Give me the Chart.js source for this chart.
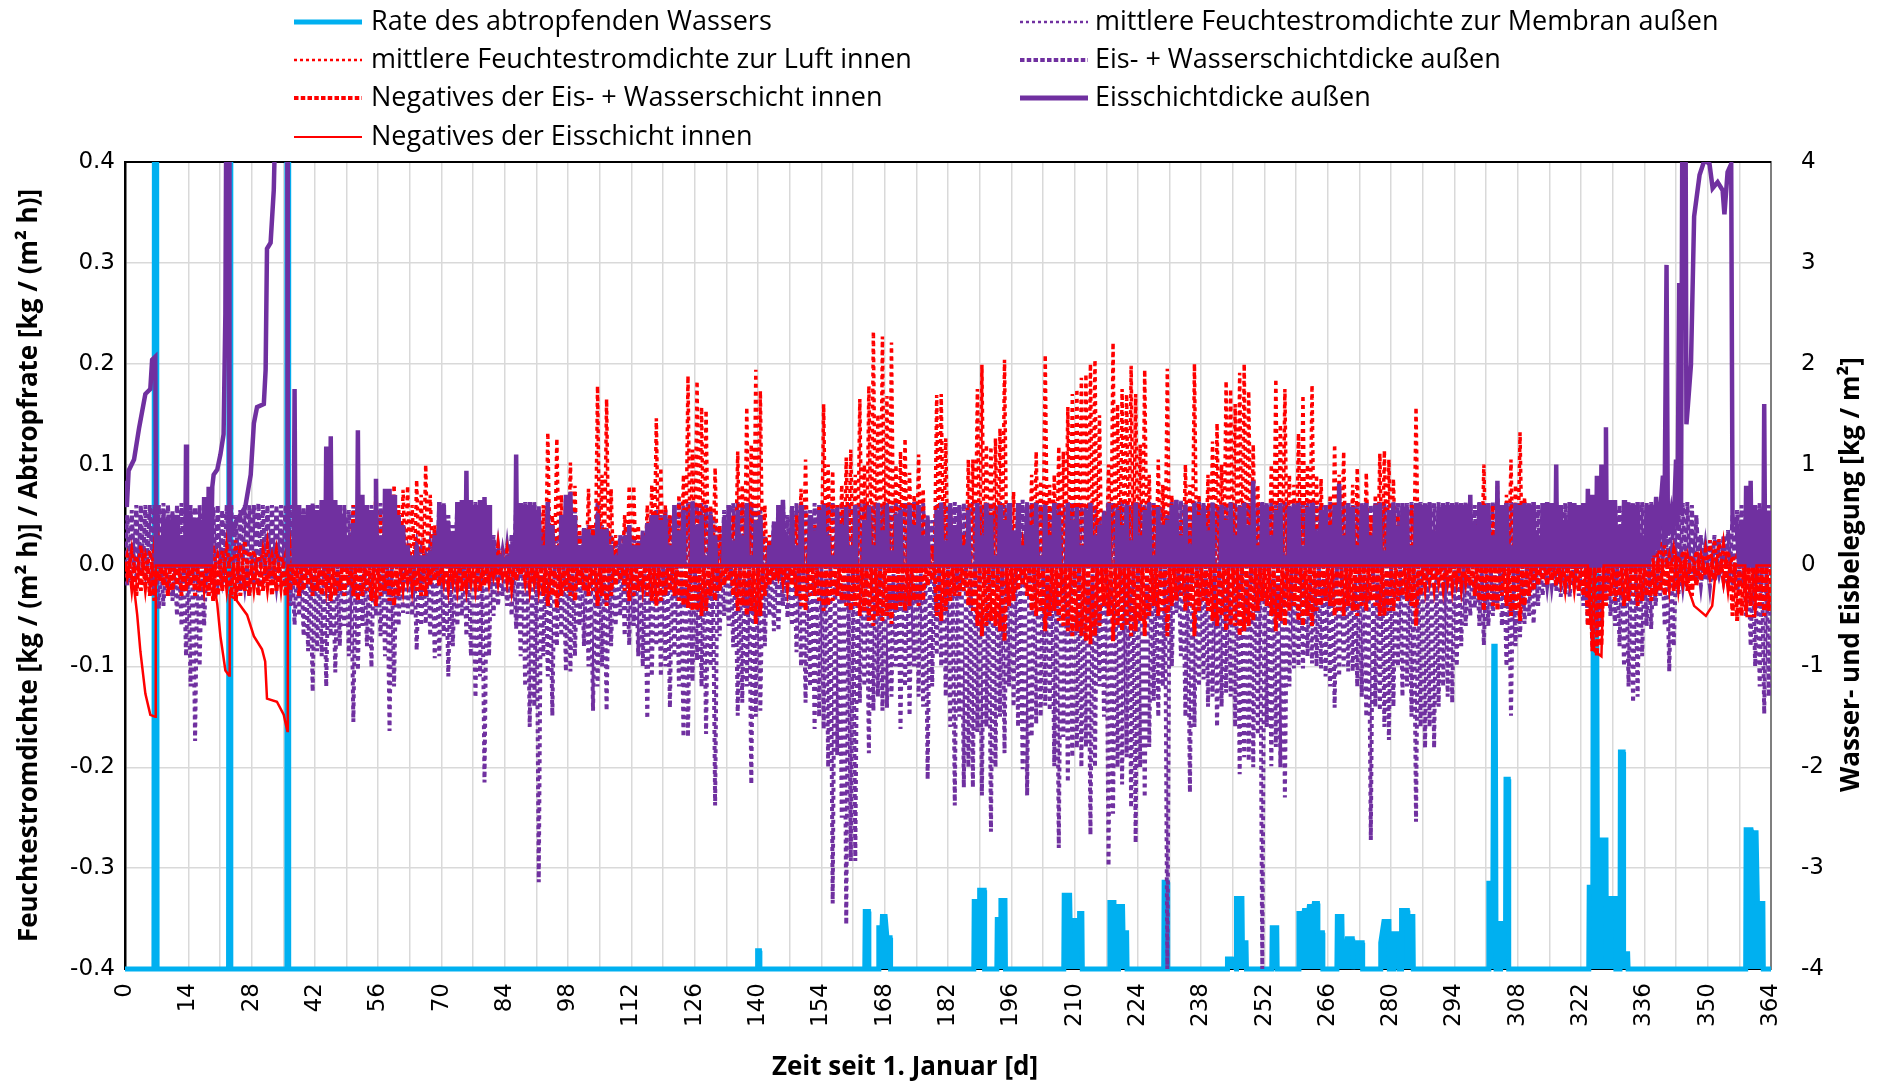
<!DOCTYPE html>
<html lang="de">
<head>
<meta charset="UTF-8">
<title>Feuchtestromdichte und Eisbelegung</title>
<script src="https://cdn.jsdelivr.net/npm/chart.js@4"></script>
<style>
  html, body { margin: 0; padding: 0; background: #fff; }
  #chartBox { width: 1881px; height: 1085px; position: relative; }
</style>
</head>
<body>
<div id="chartBox"><canvas id="chart"></canvas></div>
<script>
// Abtropfrate [kg/(m² h)], als [Tag, Wert] (Nulllinie liegt bei -0.4)
const rateAbtropf = [
  [0,-0.4],[6.4,-0.4],[6.5,0.45],[7.0,0.45],[7.1,-0.4],[22.9,-0.4],[23.0,0.45],[23.3,0.45],[23.4,-0.4],
  [35.7,-0.4],[35.8,0.45],[36.1,0.45],[36.2,-0.4],
  [139.8,-0.4],[139.9,-0.382],[140.3,-0.382],[140.4,-0.4],
  [163.6,-0.4],[163.7,-0.343],[164.4,-0.343],[164.5,-0.4],
  [166.6,-0.4],[166.7,-0.359],[167.4,-0.359],[167.5,-0.348],[168.1,-0.348],[168.5,-0.369],[169.2,-0.369],[169.3,-0.4],
  [187.7,-0.4],[187.8,-0.333],[188.9,-0.333],[189,-0.322],[190,-0.322],[190.1,-0.4],
  [192.8,-0.4],[192.9,-0.351],[193.5,-0.351],[193.7,-0.332],[194.6,-0.332],[194.7,-0.4],
  [207.6,-0.4],[207.7,-0.327],[208.9,-0.327],[209,-0.352],[210.1,-0.352],[210.2,-0.372],[211,-0.372],[211.1,-0.345],[211.6,-0.345],[211.7,-0.4],
  [217.7,-0.4],[217.8,-0.334],[218.7,-0.334],[218.8,-0.4],
  [219.6,-0.4],[219.7,-0.338],[220.6,-0.338],[220.7,-0.364],[221.5,-0.364],[221.6,-0.4],
  [229.7,-0.4],[229.8,-0.314],[230.5,-0.314],[230.6,-0.4],
  [243.7,-0.4],[243.8,-0.39],[244.8,-0.39],[245.7,-0.4],[245.8,-0.33],[247,-0.33],[247.1,-0.374],[247.9,-0.374],[248,-0.4],
  [253.6,-0.4],[253.7,-0.359],[254.7,-0.359],[254.8,-0.4],
  [259.5,-0.4],[259.6,-0.345],[260.7,-0.345],[260.8,-0.342],[261.8,-0.342],[261.9,-0.338],[262.9,-0.338],[263,-0.335],[263.7,-0.335],[263.8,-0.364],[264.8,-0.364],[264.9,-0.4],
  [268,-0.4],[268.1,-0.348],[269.1,-0.348],[269.2,-0.38],[270.1,-0.38],[270.3,-0.37],[271.4,-0.37],[271.5,-0.4],[271.8,-0.374],[273.6,-0.374],[273.7,-0.4],
  [277.6,-0.4],[277.7,-0.374],[278.4,-0.353],[279.5,-0.353],[279.6,-0.4],[280.5,-0.4],[280.6,-0.365],[281.7,-0.365],[281.8,-0.4],
  [282.2,-0.4],[282.3,-0.342],[283.6,-0.342],[283.7,-0.348],[284.8,-0.348],[284.9,-0.4],
  [301.5,-0.4],[301.6,-0.315],[302.5,-0.315],[302.7,-0.08],[303.0,-0.08],[303.2,-0.4],[304.1,-0.4],[304.2,-0.355],[305.3,-0.355],[305.4,-0.212],[305.9,-0.212],[306,-0.4],
  [323.7,-0.4],[323.8,-0.319],[324.6,-0.319],[324.7,0.04],[325.4,0.04],[325.6,-0.28],[326.4,-0.28],[326.5,-0.272],[327.5,-0.272],[327.6,-0.39],[328.4,-0.39],
  [328.5,-0.33],[329.6,-0.33],[329.7,-0.4],[330.6,-0.4],[330.7,-0.185],[331.3,-0.185],[331.4,-0.385],[332.3,-0.385],[332.4,-0.4],
  [358.4,-0.4],[358.5,-0.262],[359.6,-0.262],[359.7,-0.265],[360.7,-0.265],[361,-0.335],[362.2,-0.335],[362.3,-0.4],[364,-0.4]
];

// mittlere Feuchtestromdichte zur Membran außen: Tagesminimum [kg/(m² h)], Index = Tag
const membranMin = [
  -0.02,-0.015,-0.01,-0.005,-0.01,-0.02,-0.03,
  -0.043,-0.04,-0.03,-0.035,-0.05,-0.06,-0.09,
  -0.12,-0.174,-0.1,-0.06,-0.03,-0.02,-0.017,
  -0.015,-0.02,-0.017,-0.03,-0.025,-0.02,-0.03,
  -0.02,-0.015,-0.02,-0.01,-0.015,-0.02,-0.01,
  -0.02,-0.04,-0.059,-0.05,-0.07,-0.085,-0.125,
  -0.085,-0.09,-0.12,-0.07,-0.106,-0.08,-0.06,
  -0.09,-0.155,-0.104,-0.06,-0.08,-0.101,-0.05,
  -0.07,-0.09,-0.164,-0.12,-0.06,-0.047,-0.048,
  -0.05,-0.084,-0.06,-0.058,-0.07,-0.092,-0.09,
  -0.07,-0.11,-0.08,-0.06,-0.05,-0.07,-0.09,
  -0.131,-0.11,-0.215,-0.09,-0.05,-0.04,-0.03,
  -0.04,-0.05,-0.063,-0.09,-0.12,-0.16,-0.14,
  -0.314,-0.09,-0.11,-0.149,-0.08,-0.07,-0.105,
  -0.105,-0.09,-0.06,-0.08,-0.1,-0.144,-0.12,
  -0.1,-0.144,-0.08,-0.06,-0.05,-0.07,-0.079,
  -0.06,-0.09,-0.1,-0.152,-0.11,-0.08,-0.11,
  -0.1,-0.141,-0.09,-0.12,-0.17,-0.17,-0.115,
  -0.094,-0.12,-0.167,-0.1,-0.238,-0.07,-0.05,
  -0.06,-0.081,-0.149,-0.136,-0.12,-0.217,-0.15,
  -0.144,-0.08,-0.05,-0.065,-0.065,-0.04,-0.052,
  -0.06,-0.086,-0.1,-0.136,-0.12,-0.162,-0.15,
  -0.162,-0.2,-0.335,-0.188,-0.25,-0.356,-0.293,
  -0.293,-0.136,-0.12,-0.186,-0.144,-0.13,-0.144,
  -0.141,-0.13,-0.1,-0.162,-0.12,-0.149,-0.1,
  -0.13,-0.14,-0.212,-0.12,-0.089,-0.1,-0.13,
  -0.16,-0.238,-0.15,-0.22,-0.2,-0.22,-0.165,
  -0.228,-0.16,-0.264,-0.2,-0.15,-0.186,-0.12,
  -0.14,-0.16,-0.202,-0.228,-0.17,-0.157,-0.15,
  -0.139,-0.144,-0.199,-0.28,-0.17,-0.215,-0.19,
  -0.181,-0.2,-0.18,-0.267,-0.2,-0.12,-0.15,
  -0.298,-0.246,-0.2,-0.217,-0.19,-0.24,-0.275,
  -0.2,-0.23,-0.18,-0.134,-0.15,-0.12,-0.4,
  -0.1,-0.047,-0.09,-0.15,-0.225,-0.16,-0.12,
  -0.113,-0.14,-0.13,-0.16,-0.14,-0.126,-0.13,
  -0.16,-0.207,-0.19,-0.194,-0.2,-0.168,-0.4,
  -0.16,-0.199,-0.18,-0.2,-0.23,-0.12,-0.102,
  -0.1,-0.102,-0.09,-0.097,-0.1,-0.102,-0.11,
  -0.12,-0.141,-0.11,-0.1,-0.105,-0.105,-0.12,
  -0.13,-0.15,-0.272,-0.14,-0.144,-0.16,-0.173,
  -0.14,-0.1,-0.13,-0.12,-0.15,-0.254,-0.16,
  -0.181,-0.16,-0.181,-0.14,-0.12,-0.13,-0.136,
  -0.1,-0.08,-0.06,-0.05,-0.042,-0.06,-0.079,
  -0.06,-0.05,-0.037,-0.06,-0.1,-0.149,-0.08,
  -0.071,-0.058,-0.05,-0.058,-0.04,-0.03,-0.02,
  -0.02,-0.025,-0.031,-0.03,-0.031,-0.02,-0.03,
  -0.04,-0.06,-0.079,-0.07,-0.06,-0.04,-0.05,
  -0.06,-0.08,-0.1,-0.12,-0.136,-0.13,-0.09,
  -0.06,-0.063,-0.04,-0.03,-0.06,-0.105,-0.08,
  -0.03,-0.02,-0.015,-0.01,-0.015,-0.02,-0.015,
  -0.021,-0.015,-0.01,-0.015,-0.02,-0.02,-0.03,
  -0.02,-0.05,-0.08,-0.1,-0.12,-0.147,-0.13,
  -0.14
];

// mittlere Feuchtestromdichte zur Luft innen: Tagesmaximum [kg/(m² h)]
const luftMax = [
  0.01,0.015,0.01,0.02,0.01,0.015,0.02,
  0.02,0.015,0.025,0.02,0.03,0.025,0.02,
  0.015,0.02,0.015,0.01,0.015,0.02,0.01,
  0.015,0.02,0.01,0.025,0.02,0.025,0.015,
  0.015,0.01,0.015,0.02,0.01,0.015,0.01,
  0.01,0.02,0.015,0.02,0.01,0.02,0.015,
  0.02,0.03,0.02,0.025,0.03,0.02,0.025,
  0.03,0.06,0.045,0.03,0.04,0.05,0.077,
  0.05,0.07,0.065,0.08,0.06,0.075,0.079,
  0.06,0.085,0.07,0.1,0.07,0.04,0.045,
  0.03,0.02,0.025,0.02,0.03,0.02,0.025,
  0.02,0.015,0.02,0.01,0.015,0.02,0.01,
  0.015,0.02,0.015,0.01,0.01,0.02,0.015,
  0.03,0.06,0.132,0.05,0.126,0.07,0.06,
  0.102,0.079,0.04,0.03,0.076,0.04,0.178,
  0.09,0.165,0.076,0.03,0.02,0.05,0.079,
  0.079,0.04,0.03,0.06,0.08,0.146,0.097,
  0.06,0.05,0.04,0.07,0.09,0.188,0.115,
  0.183,0.157,0.154,0.06,0.097,0.04,0.03,
  0.02,0.05,0.113,0.08,0.157,0.12,0.194,
  0.173,0.06,0.03,0.02,0.015,0.024,0.02,
  0.04,0.05,0.076,0.105,0.03,0.04,0.06,
  0.16,0.1,0.094,0.06,0.08,0.107,0.115,
  0.09,0.165,0.1,0.178,0.232,0.15,0.227,
  0.168,0.221,0.1,0.113,0.126,0.092,0.07,
  0.11,0.076,0.03,0.02,0.169,0.17,0.126,
  0.06,0.04,0.052,0.03,0.105,0.105,0.175,
  0.199,0.12,0.118,0.126,0.136,0.204,0.05,
  0.073,0.03,0.02,0.04,0.09,0.113,0.084,
  0.209,0.08,0.09,0.118,0.113,0.157,0.17,
  0.175,0.186,0.19,0.2,0.204,0.149,0.05,
  0.1,0.221,0.16,0.175,0.17,0.198,0.17,
  0.12,0.194,0.09,0.06,0.105,0.08,0.195,
  0.07,0.06,0.045,0.1,0.08,0.2,0.07,
  0.05,0.09,0.123,0.141,0.1,0.183,0.175,
  0.16,0.191,0.2,0.173,0.12,0.08,0.04,
  0.06,0.1,0.185,0.14,0.175,0.09,0.08,
  0.131,0.169,0.1,0.179,0.09,0.086,0.06,
  0.07,0.12,0.09,0.113,0.06,0.08,0.097,
  0.06,0.092,0.05,0.07,0.111,0.114,0.105,
  0.086,0.05,0.03,0.04,0.06,0.157,0.04,
  0.02,0.02,0.02,0.015,0.02,0.02,0.015,
  0.02,0.015,0.02,0.03,0.04,0.06,0.1,
  0.05,0.06,0.079,0.04,0.07,0.105,0.08,
  0.132,0.068,0.03,0.03,0.02,0.02,0.015,
  0.02,0.015,0.02,0.015,0.01,0.02,0.01,
  0.015,0.02,0.02,0.01,0.01,0.02,0.015,
  0.02,0.01,0.02,0.015,0.01,0.02,0.015,
  0.02,0.025,0.03,0.025,0.02,0.01,0.015,
  0.01,0.015,0.01,0.01,0.015,0.01,0.015,
  0.025,0.026,0.026,0.02,0.015,0.01,0.01,
  0.01,0.015,0.01,0.02,0.01,0.01,0.015,
  0.01
];

// Eis- + Wasserschichtdicke außen: Tagesmaximum [kg/m²]
const eisWasserAussen = [
  0.5,0.55,0.6,0.6,0.6,0.6,0.6,
  0.6,0.62,0.6,0.55,0.6,0.62,0.6,
  0.6,0.58,0.6,0.62,0.6,0.58,0.6,
  0.55,0.6,0.6,0.5,0.55,0.6,0.6,
  0.6,0.62,0.6,0.6,0.6,0.6,0.6,
  0.6,0.6,0.62,0.6,0.58,0.6,0.62,
  0.6,0.62,0.6,0.62,0.6,0.58,0.6,
  0.55,0.6,0.62,0.6,0.58,0.6,0.6,
  0.62,0.6,0.55,0.6,0.5,0.2,0.15,
  0.1,0.2,0.15,0.1,0.2,0.35,0.63,
  0.62,0.5,0.4,0.63,0.63,0.6,0.65,
  0.63,0.6,0.62,0.6,0.3,0.2,0.15,
  0.2,0.3,0.6,0.62,0.63,0.6,0.63,
  0.6,0.35,0.63,0.4,0.3,0.5,0.65,
  0.63,0.55,0.3,0.37,0.4,0.37,0.63,
  0.4,0.37,0.3,0.25,0.3,0.35,0.45,
  0.3,0.25,0.35,0.42,0.5,0.55,0.5,
  0.55,0.5,0.6,0.63,0.6,0.63,0.65,
  0.6,0.62,0.6,0.55,0.45,0.35,0.55,
  0.6,0.62,0.63,0.6,0.62,0.63,0.6,
  0.55,0.3,0.25,0.45,0.6,0.65,0.5,
  0.6,0.62,0.63,0.6,0.55,0.62,0.6,
  0.63,0.6,0.62,0.6,0.63,0.6,0.62,
  0.6,0.62,0.63,0.6,0.6,0.63,0.6,
  0.62,0.6,0.63,0.6,0.62,0.6,0.63,
  0.6,0.62,0.5,0.45,0.6,0.63,0.6,
  0.62,0.63,0.6,0.62,0.6,0.63,0.62,
  0.6,0.63,0.62,0.6,0.63,0.6,0.62,
  0.4,0.63,0.65,0.63,0.62,0.63,0.6,
  0.62,0.6,0.63,0.62,0.6,0.63,0.62,
  0.6,0.62,0.6,0.63,0.6,0.45,0.55,
  0.63,0.62,0.6,0.63,0.62,0.6,0.63,
  0.62,0.6,0.63,0.62,0.6,0.58,0.5,
  0.63,0.65,0.64,0.62,0.6,0.65,0.63,
  0.62,0.6,0.63,0.6,0.62,0.6,0.63,
  0.62,0.6,0.63,0.62,0.6,0.62,0.63,
  0.62,0.63,0.6,0.62,0.63,0.6,0.62,
  0.63,0.6,0.62,0.63,0.6,0.62,0.6,
  0.63,0.62,0.6,0.63,0.62,0.6,0.63,
  0.62,0.63,0.6,0.62,0.63,0.62,0.6,
  0.63,0.62,0.6,0.62,0.63,0.62,0.63,
  0.62,0.63,0.62,0.63,0.62,0.63,0.62,
  0.63,0.62,0.63,0.62,0.6,0.63,0.62,
  0.6,0.63,0.62,0.6,0.62,0.63,0.6,
  0.62,0.63,0.62,0.63,0.6,0.62,0.63,
  0.62,0.63,0.6,0.62,0.63,0.62,0.6,
  0.62,0.6,0.63,0.62,0.6,0.63,0.62,
  0.63,0.6,0.62,0.63,0.62,0.6,0.63,
  0.62,0.63,0.6,0.62,0.63,0.6,0.62,
  0.6,0.62,0.63,0.6,0.5,0.3,0.2,
  0.25,0.3,0.25,0.3,0.35,0.5,0.55,
  0.6,0.62,0.63,0.6,0.62,0.63,0.6,
  0.62
];

// Negatives der Eis- + Wasserschicht innen: Tagesminimum [kg/m²]
const negEisWasserInnen = [
  -0.1,-0.2,-0.3,-0.25,-0.2,-0.3,-0.35,
  -0.15,-0.2,-0.3,-0.25,-0.2,-0.3,-0.25,
  -0.2,-0.3,-0.25,-0.2,-0.3,-0.35,-0.3,
  -0.25,-0.2,-0.3,-0.35,-0.3,-0.25,-0.3,
  -0.2,-0.3,-0.25,-0.2,-0.3,-0.25,-0.2,
  -0.3,-0.25,-0.2,-0.3,-0.25,-0.2,-0.3,
  -0.25,-0.3,-0.2,-0.35,-0.3,-0.25,-0.3,
  -0.2,-0.3,-0.35,-0.3,-0.25,-0.35,-0.4,
  -0.3,-0.25,-0.35,-0.4,-0.3,-0.2,-0.15,
  -0.2,-0.25,-0.3,-0.3,-0.2,-0.15,-0.2,
  -0.15,-0.2,-0.15,-0.2,-0.25,-0.2,-0.15,
  -0.2,-0.25,-0.2,-0.15,-0.1,-0.15,-0.1,
  -0.15,-0.2,-0.15,-0.1,-0.15,-0.2,-0.15,
  -0.2,-0.3,-0.4,-0.3,-0.42,-0.3,-0.25,
  -0.3,-0.35,-0.2,-0.25,-0.3,-0.25,-0.4,
  -0.3,-0.4,-0.3,-0.2,-0.15,-0.25,-0.35,
  -0.3,-0.25,-0.2,-0.3,-0.35,-0.4,-0.35,
  -0.3,-0.25,-0.3,-0.35,-0.4,-0.42,-0.45,
  -0.45,-0.5,-0.45,-0.3,-0.35,-0.25,-0.2,
  -0.15,-0.3,-0.45,-0.4,-0.5,-0.45,-0.58,
  -0.5,-0.3,-0.2,-0.15,-0.1,-0.15,-0.2,
  -0.2,-0.3,-0.4,-0.45,-0.3,-0.3,-0.35,
  -0.45,-0.4,-0.35,-0.3,-0.35,-0.4,-0.45,
  -0.4,-0.5,-0.45,-0.55,-0.6,-0.5,-0.55,
  -0.5,-0.58,-0.45,-0.4,-0.45,-0.4,-0.35,
  -0.4,-0.35,-0.2,-0.15,-0.5,-0.55,-0.45,
  -0.35,-0.3,-0.3,-0.25,-0.4,-0.45,-0.6,
  -0.7,-0.6,-0.55,-0.6,-0.65,-0.75,-0.4,
  -0.35,-0.25,-0.2,-0.3,-0.45,-0.5,-0.45,
  -0.65,-0.5,-0.45,-0.55,-0.6,-0.65,-0.7,
  -0.65,-0.7,-0.75,-0.78,-0.7,-0.6,-0.4,
  -0.5,-0.75,-0.6,-0.65,-0.6,-0.7,-0.65,
  -0.55,-0.7,-0.5,-0.4,-0.5,-0.45,-0.7,
  -0.4,-0.35,-0.3,-0.45,-0.4,-0.7,-0.45,
  -0.35,-0.45,-0.55,-0.6,-0.5,-0.65,-0.6,
  -0.6,-0.7,-0.65,-0.6,-0.55,-0.45,-0.35,
  -0.4,-0.5,-0.65,-0.55,-0.6,-0.45,-0.4,
  -0.55,-0.6,-0.5,-0.6,-0.45,-0.4,-0.35,
  -0.4,-0.5,-0.45,-0.5,-0.4,-0.45,-0.5,
  -0.4,-0.45,-0.35,-0.4,-0.5,-0.5,-0.45,
  -0.45,-0.35,-0.3,-0.35,-0.4,-0.6,-0.3,
  -0.2,-0.15,-0.2,-0.15,-0.2,-0.15,-0.2,
  -0.15,-0.2,-0.15,-0.2,-0.3,-0.35,-0.45,
  -0.35,-0.4,-0.45,-0.3,-0.4,-0.5,-0.45,
  -0.55,-0.4,-0.3,-0.25,-0.2,-0.15,-0.2,
  -0.15,-0.2,-0.15,-0.2,-0.15,-0.2,-0.25,
  -0.3,-0.6,-0.85,-0.9,-0.8,-0.4,-0.3,
  -0.35,-0.3,-0.4,-0.35,-0.3,-0.4,-0.35,
  -0.3,-0.35,-0.3,-0.25,-0.3,-0.2,-0.25,
  -0.2,-0.15,-0.25,-0.3,-0.2,-0.15,-0.1,
  -0.1,-0.15,-0.1,-0.15,-0.2,-0.5,-0.55,
  -0.5,-0.45,-0.4,-0.45,-0.4,-0.5,-0.45,
  -0.4
];

// Eisschichtdicke außen: Tagesmaximum [kg/m²]; null = Tage mit durchgehendem Verlauf (eisAussenVerlauf)
const eisAussenTag = [
  null,null,null,null,null,null,null,
  0.3,0.5,0.45,0.5,0.5,0.3,1.2,
  0.5,0.45,0.45,0.68,0.78,null,null,
  null,null,null,null,null,null,null,
  null,null,null,null,null,null,null,
  null,null,1.75,0.6,0.5,0.6,0.6,
  0.55,0.65,1.18,1.28,0.65,0.6,0.5,
  0.3,0.4,1.34,0.7,0.6,0.55,0.86,
  0.3,0.76,0.76,0.7,0.5,0.4,0.2,
  0.1,0.2,0.1,0.1,0.15,0.3,0.63,
  0.6,0.4,0.3,0.63,0.65,0.94,0.65,
  0.6,0.65,0.68,0.6,0.2,0.1,0.05,
  0.1,0.2,1.1,0.62,0.6,0.63,0.6,
  0.55,0.2,0.63,0.4,0.2,0.5,0.7,
  0.73,0.5,0.2,0.36,0.36,0.3,0.5,
  0.36,0.36,0.2,0.1,0.2,0.3,0.4,
  0.2,0.2,0.3,0.42,0.5,0.5,0.45,
  0.5,0.2,0.6,0.35,0.55,0,0.63,
  0.4,0.5,0.1,0.5,0.3,0,0.45,
  0.6,0.25,0.55,0.3,0.62,0.1,0.45,
  0.5,0,0.2,0.4,0.6,0.65,0.3,
  0.55,0.2,0.6,0,0.5,0.35,0.55,
  0.6,0.3,0.1,0.55,0.4,0.58,0.2,
  0.6,0,0.45,0.58,0.2,0.62,0.35,
  0.6,0.15,0.5,0.55,0,0.6,0.4,
  0.6,0.3,0.45,0,0.55,0.62,0.25,
  0.6,0.4,0.58,0.2,0.55,0,0.62,
  0.3,0.62,0.5,0.1,0.6,0.45,0.62,
  0.35,0.62,0.2,0.6,0.4,0.62,0.1,
  0.6,0.3,0.62,0.5,0,0.62,0.45,
  0.58,0.2,0.55,0.62,0.3,0.4,0.5,
  0.62,0,0.55,0.4,0.6,0.25,0.62,
  0.3,0.55,0.62,0.1,0.58,0.4,0.45,
  0.6,0.65,0.3,0.6,0.2,0.62,0.5,
  0.6,0.35,0.62,0,0.6,0.45,0.62,
  0.3,0.58,0.62,0.4,0.84,0.2,0.62,
  0.6,0.3,0.55,0.62,0.1,0.58,0.6,
  0.62,0.2,0.58,0.62,0.35,0.55,0.6,
  0.4,0.6,0.81,0.3,0.62,0.58,0.2,
  0.6,0.62,0.3,0.6,0.62,0.15,0.55,
  0.62,0.4,0.62,0.58,0.2,0.62,0.6,
  0.6,0.62,0.35,0.58,0.62,0.6,0.62,
  0.6,0.62,0.6,0.7,0.4,0.62,0.6,
  0.62,0.3,0.84,0.6,0.62,0.2,0.62,
  0.6,0.62,0.6,0.63,0.3,0.62,0.63,
  0.62,1.0,0.6,0.45,0.63,0.62,0.6,
  0.62,0.76,0.7,0.89,1.0,1.37,0.65,
  0.65,0.4,0.65,0.62,0.6,0.63,0.3,
  0.6,null,null,null,null,null,null,
  null,null,null,null,null,null,null,
  null,null,null,null,null,null,null,
  0.45,0.79,0.84,0.6,0.55,1.6,0.52,
  0.6
];

// Eisschichtdicke außen in den Frostphasen, als [Tag, kg/m²]
const eisAussenVerlauf = [
  [0,0.84],[0.4,0.58],[0.8,0.94],[2,1.05],[3.1,1.36],[4.5,1.7],[5.6,1.75],[6,2.04],[6.7,2.07],[6.9,0],
  [19,0],[19.3,0.78],[19.6,0.9],[20.4,0.95],[21.1,1.1],[21.8,1.3],[22.2,2.5],[22.4,4.5],[23,4.5],[23.1,0.3],
  [24.1,0.37],[24.8,0.45],[26.6,0.58],[27.8,0.9],[28.5,1.41],[29.2,1.57],[30.7,1.6],[31.1,1.94],[31.4,3.14],
  [32.2,3.2],[32.9,3.72],[33.3,4.5],[35.9,4.5],[36,0],
  [337,0],[337.5,0.6],[338,0.1],[338.6,0.68],[339,0.15],[339.6,0.6],[340.1,0.89],[340.4,0.2],[340.9,2.98],
  [341.2,0.3],[341.9,0.52],[342.4,0.3],[343,1.05],[343.3,0.4],[343.7,2.8],[344.1,0.5],[344.4,4.5],[345.1,4.5],
  [345.3,1.4],[345.6,1.57],[346.3,1.99],[347,3.46],[348.2,3.87],[349.3,4.02],[350.4,3.98],[351.1,3.74],
  [352.2,3.8],[353.3,3.72],[353.7,3.48],[354.4,3.9],[355.2,3.98],[355.5,0.42],[356.3,0.45],[357,0]
];

// Negatives der Eisschicht innen [kg/m²], als [Tag, Wert]
const negEisInnen = [
  [0,0],[1,-0.05],[2,-0.22],[2.7,-0.49],[3.4,-0.85],[4.5,-1.27],[5.6,-1.48],[6.7,-1.5],[6.8,0],
  [19.4,0],[19.6,-0.17],[20.4,-0.38],[21.1,-0.7],[22.2,-1.04],[23,-1.09],[23.15,-0.3],[24.4,-0.33],
  [27,-0.49],[28.5,-0.7],[30.3,-0.83],[31,-0.95],[31.4,-1.32],[33.6,-1.35],[35.1,-1.48],[35.9,-1.64],[36,0],
  [323.5,0],[324,-0.5],[325,-0.85],[326.5,-0.9],[327,0],
  [344.8,0],[345.5,-0.2],[347,-0.4],[349.6,-0.5],[351,-0.4],[351.9,0],
  [358.3,0],[358.6,-0.5],[360.5,-0.5],[360.8,0],[364,0]
];

const BLAU = '#00B0F0';
const ROT = '#FF0000';
const LILA = '#7030A0';

const paare = (liste) => liste.map(([x, y]) => ({ x, y }));

// Tageswerte als kurzer Ausschlag von der Nulllinie zum Tageswert und zurück
function tagesPunkte(werte) {
  const pts = [{ x: 0, y: 0 }];
  werte.forEach((v, d) => {
    if (v === null) return;
    pts.push({ x: d + 0.5, y: v }, { x: d + 1, y: 0 });
  });
  return pts;
}

// Eisschicht außen: schmale Tagesspitzen plus durchgehender Verlauf in den Frostphasen
function eisAussenPunkte() {
  const pts = paare(eisAussenVerlauf);
  eisAussenTag.forEach((v, d) => {
    if (v !== null) pts.push({ x: d + 0.3, y: 0 }, { x: d + 0.5, y: v }, { x: d + 0.7, y: 0 });
  });
  return pts.sort((a, b) => a.x - b.x);
}

// Reihenfolge = Legende; "order": kleinere Zahl liegt oben
const datasets = [
  { label: 'Rate des abtropfenden Wassers', data: paare(rateAbtropf), yAxisID: 'y',
    borderColor: BLAU, backgroundColor: BLAU, fill: { value: -0.4 }, borderWidth: 5, order: 7,
    clip: { left: 0, top: 0, right: 0, bottom: 6 } },
  { label: 'mittlere Feuchtestromdichte zur Membran außen', data: tagesPunkte(membranMin), yAxisID: 'y',
    borderColor: LILA, borderWidth: 4, borderDash: [4, 4], order: 5 },
  { label: 'mittlere Feuchtestromdichte zur Luft innen', data: tagesPunkte(luftMax), yAxisID: 'y',
    borderColor: ROT, borderWidth: 3.5, borderDash: [4, 4], order: 3 },
  { label: 'Eis- + Wasserschichtdicke außen', data: tagesPunkte(eisWasserAussen), yAxisID: 'y1',
    borderColor: LILA, borderWidth: 4, borderDash: [6, 3], order: 6 },
  { label: 'Negatives der Eis- + Wasserschicht innen', data: tagesPunkte(negEisWasserInnen), yAxisID: 'y1',
    borderColor: ROT, borderWidth: 4, borderDash: [6, 3], order: 4 },
  { label: 'Eisschichtdicke außen', data: eisAussenPunkte(), yAxisID: 'y1',
    borderColor: LILA, borderWidth: 4.5, order: 2 },
  { label: 'Negatives der Eisschicht innen', data: paare(negEisInnen), yAxisID: 'y1',
    borderColor: ROT, borderWidth: 2.5, order: 1 }
];
datasets.forEach(ds => {
  ds.pointRadius = 0;
  ds.tension = 0;
  if (ds.fill === undefined) ds.fill = false;
  if (ds.clip === undefined) ds.clip = 0;
});

// Legende in zwei Spalten: [Datensatz, Spalte, Zeile]
const legendeAnordnung = [[0,0,0],[2,0,1],[4,0,2],[6,0,3],[1,1,0],[3,1,1],[5,1,2]];
// Linienbreiten der Legendenmuster
const legendeBreite = [5, 2.5, 2.5, 4, 4, 5, 2];

const texte = {
  id: 'texte',
  beforeDatasetsDraw(chart) {
    const { ctx, chartArea: a } = chart;
    ctx.save();
    ctx.strokeStyle = '#000';
    ctx.lineWidth = 2;
    ctx.beginPath();
    ctx.moveTo(a.left, a.top);
    ctx.lineTo(a.right, a.top);
    ctx.stroke();
    ctx.restore();
  },
  afterDraw(chart) {
    const { ctx, chartArea: a } = chart;
    ctx.save();
    ctx.fillStyle = '#000';
    ctx.textAlign = 'center';
    ctx.textBaseline = 'middle';
    ctx.font = 'bold 26px "Open Sans"';
    ctx.fillText('Zeit seit 1. Januar [d]', (a.left + a.right) / 2 - 43, 1068);

    ctx.save();
    ctx.translate(30, (a.top + a.bottom) / 2);
    ctx.rotate(-Math.PI / 2);
    ctx.fillText('Feuchtestromdichte [kg / (m² h)] / Abtropfrate [kg / (m² h)]', 0, 0);
    ctx.restore();

    ctx.save();
    ctx.translate(1852, (a.top + a.bottom) / 2 + 9);
    ctx.rotate(-Math.PI / 2);
    ctx.fillText('Wasser- und Eisbelegung [kg / m²]', 0, 0);
    ctx.restore();

    // Legende
    const spalten = [{ linie: 294, text: 371 }, { linie: 1020, text: 1095 }];
    const zeilen = [22, 60, 98, 137];
    ctx.font = '27px "Open Sans"';
    ctx.textAlign = 'left';
    legendeAnordnung.forEach(([i, s, z]) => {
      const ds = chart.data.datasets[i];
      const y = zeilen[z];
      ctx.strokeStyle = ds.borderColor;
      ctx.lineWidth = legendeBreite[i];
      ctx.setLineDash(ds.borderDash ? ds.borderDash.map(v => v * 0.75) : []);
      ctx.beginPath();
      ctx.moveTo(spalten[s].linie, y);
      ctx.lineTo(spalten[s].linie + 68, y);
      ctx.stroke();
      ctx.fillText(ds.label, spalten[s].text, y);
    });
    ctx.restore();
  }
};

const tickFont = { family: '"DejaVu Sans"', size: 23 };
const gitter = '#D9D9D9';

new Chart(document.getElementById('chart'), {
  type: 'line',
  data: { datasets },
  options: {
    responsive: true,
    maintainAspectRatio: false,
    animation: false,
    events: [],
    layout: { padding: { top: 162, left: 0, right: 0, bottom: 0 } },
    plugins: { legend: { display: false }, tooltip: { enabled: false } },
    scales: {
      x: {
        type: 'linear', min: 0, max: 364,
        ticks: {
          stepSize: 7, autoSkip: false, minRotation: 90, maxRotation: 90,
          padding: 14, color: '#000', font: tickFont,
          callback: (v) => (v % 14 === 0 ? String(v) : '')
        },
        grid: { color: gitter, lineWidth: 1.5, drawTicks: false },
        border: { color: '#000', width: 2 },
        afterFit(scale) { scale.height = 116; }
      },
      y: {
        position: 'left', min: -0.4, max: 0.4,
        ticks: { stepSize: 0.1, padding: 10, color: '#000', font: tickFont,
          callback: (v) => Number(v).toFixed(1) },
        grid: { color: gitter, lineWidth: 1.5, drawTicks: false },
        border: { color: '#000', width: 2.5 },
        afterFit(scale) { scale.width = 125; }
      },
      y1: {
        position: 'right', min: -4, max: 4,
        ticks: { stepSize: 1, padding: 30, color: '#000', font: tickFont },
        grid: { drawOnChartArea: false, drawTicks: false },
        border: { color: '#7F7F7F', width: 2 },
        afterFit(scale) { scale.width = 110; }
      }
    }
  },
  plugins: [texte]
});
</script>
</body>
</html>
